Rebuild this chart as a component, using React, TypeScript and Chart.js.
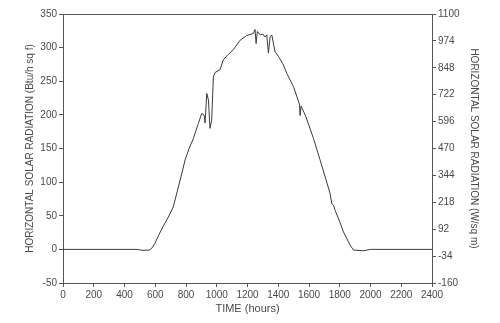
import React, { useEffect, useRef } from "react";
import { Chart, registerables } from "chart.js";

Chart.register(...registerables);

const hours = [0, 480, 520, 560, 575, 598, 620, 651, 685, 717, 745, 774, 794, 820, 848, 865, 880, 902, 917, 924, 935, 946, 956, 967, 978, 989, 1021, 1043, 1075, 1108, 1152, 1195, 1238, 1249, 1256, 1264, 1282, 1300, 1314, 1325, 1336, 1347, 1358, 1379, 1401, 1430, 1455, 1499, 1538, 1542, 1548, 1575, 1600, 1629, 1672, 1705, 1737, 1748, 1759, 1770, 1800, 1824, 1867, 1889, 1954, 2000, 2400];
const radiation = [0, 0, -1.5, -1, 1, 9, 20, 34, 48, 63, 88, 114, 133, 150, 165, 177, 187, 202, 200, 188, 232, 222, 180, 192, 257, 263, 267, 282, 290, 297, 311, 318, 321, 327, 306, 324, 319, 320, 316, 319, 292, 316, 319, 294, 287, 276, 262, 242, 216, 199, 213, 200, 184, 165, 133, 108, 83, 68, 66, 58, 41, 26, 6.5, -1, -2, 0, 0];

const leftMin = -50;
const leftMax = 350;
const leftStep = 50;
const rightTicks = [-160, -34, 92, 218, 344, 470, 596, 722, 848, 974, 1100];
const xMin = 0;
const xMax = 2400;
const xStep = 200;

const leftTitle = "HORIZONTAL SOLAR RADIATION (Btu/h sq f)";
const rightTitle = "HORIZONTAL SOLAR RADIATION (W/sq m)";
const xTitle = "TIME (hours)";

export default function App() {
  const ref = useRef<HTMLCanvasElement | null>(null);
  useEffect(() => {
    if (!ref.current) return;
    const font = { family: "'Liberation Sans', Arial, sans-serif", size: 10 };
    const textColor = "#4a4a4a";
    const axisColor = "#555";
    const plain = (v: any) => String(v);
    const chart = new Chart(ref.current, {
      type: "line",
      data: {
        datasets: [
          {
            data: hours.map((h, i) => ({ x: h, y: radiation[i] })),
            borderColor: "#3a3a3a",
            borderWidth: 1,
            pointRadius: 0,
            tension: 0,
            yAxisID: "y",
          },
        ],
      },
      options: {
        animation: false,
        responsive: false,
        maintainAspectRatio: false,
        layout: { padding: { left: 24, right: 20, top: 0, bottom: 7 } },
        plugins: { legend: { display: false }, tooltip: { enabled: false } },
        scales: {
          x: {
            type: "linear",
            position: "bottom",
            min: xMin,
            max: xMax,
            ticks: { stepSize: xStep, font, color: textColor, maxRotation: 0, padding: 2, callback: plain },
            grid: { drawOnChartArea: false, drawTicks: true, tickLength: 4, color: axisColor },
            border: { color: axisColor, width: 1 },
            title: { display: true, text: xTitle, font: { ...font, size: 11 }, color: textColor, padding: { top: 2, bottom: 0 } },
            afterFit: (s: any) => { s.height = 33; },
          },
          xTop: {
            type: "linear",
            position: "top",
            min: xMin,
            max: xMax,
            ticks: { display: false },
            grid: { display: false, drawOnChartArea: false, drawTicks: false },
            border: { color: axisColor, width: 1 },
            afterFit: (s: any) => { s.height = 14; },
          },
          y: {
            type: "linear",
            position: "left",
            min: leftMin,
            max: leftMax,
            ticks: { stepSize: leftStep, font, color: textColor, padding: 2, callback: plain },
            grid: { drawOnChartArea: false, drawTicks: true, tickLength: 4, color: axisColor },
            border: { color: axisColor, width: 1 },
            title: { display: true, text: leftTitle, font, color: textColor, padding: { top: 0, bottom: 4 } },
            afterFit: (s: any) => { s.width = 39; },
          },
          y2: {
            type: "linear",
            position: "right",
            min: rightTicks[0],
            max: rightTicks[rightTicks.length - 1],
            afterBuildTicks: (s: any) => { s.ticks = rightTicks.map((v) => ({ value: v })); },
            ticks: { font, color: textColor, padding: 2, callback: plain },
            grid: { drawOnChartArea: false, drawTicks: true, tickLength: 4, color: axisColor },
            border: { color: axisColor, width: 1 },
            title: { display: true, text: rightTitle, font, color: textColor, padding: { top: 0, bottom: 4 } },
            afterFit: (s: any) => { s.width = 48; },
          },
        },
      },
    } as any);
    return () => chart.destroy();
  }, []);
  return (
    <div style={{ position: "fixed", left: 0, top: 0, width: 500, height: 323, background: "#fff" }}>
      <canvas ref={ref} width={500} height={323} style={{ width: 500, height: 323 }} />
    </div>
  );
}
